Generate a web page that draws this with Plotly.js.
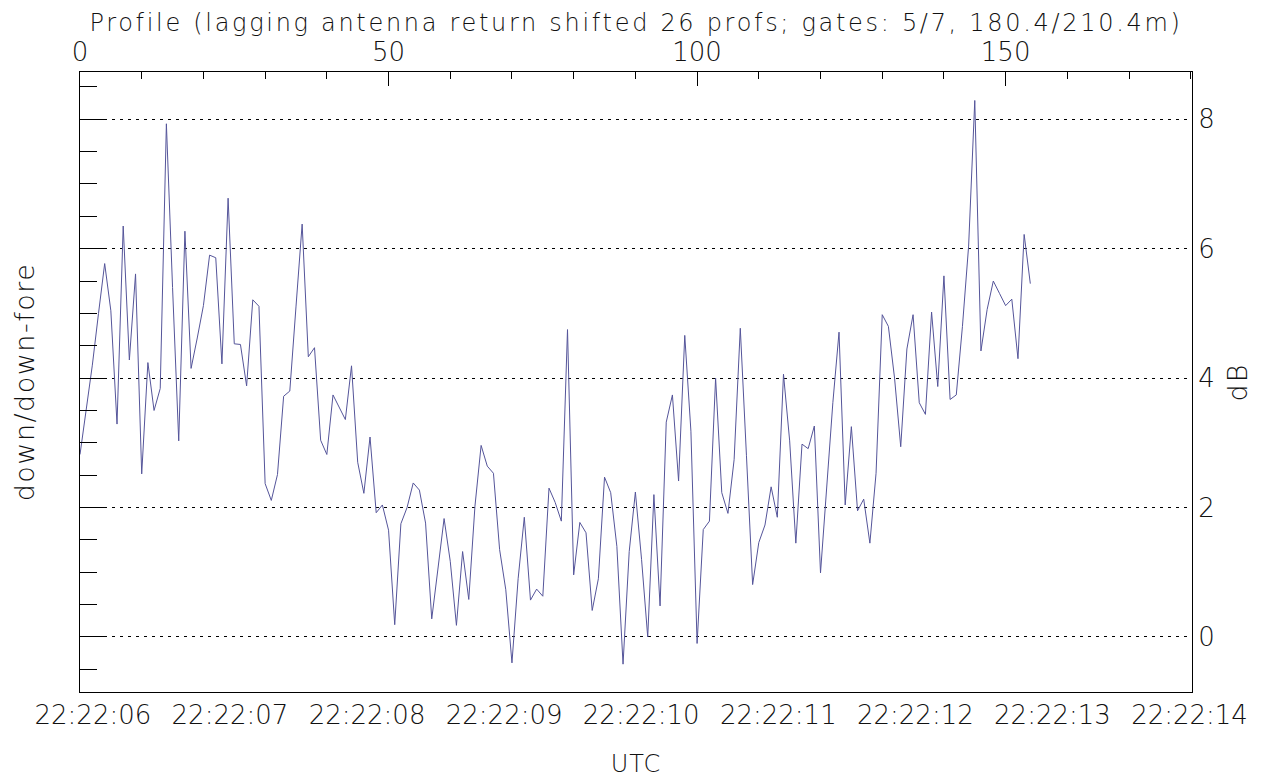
<!DOCTYPE html>
<html>
<head>
<meta charset="utf-8">
<script src="https://cdn.plot.ly/plotly-3.0.1.min.js"></script>
<style>
html,body{margin:0;padding:0;background:#fff;}
#chart{width:1267px;height:778px;}
#chart .gtitle{letter-spacing:2.7px;}
#chart .ytitle{letter-spacing:1.5px;}
#chart .y2title{letter-spacing:2px;}
#chart .xtitle{letter-spacing:1px;}
</style>
</head>
<body>
<div id="chart"></div>
<script>
// dB ratio down/down-fore per profile (profile index = array position)
const dbValues = [
  2.82, 3.5, 4.2, 5.0, 5.77, 5.04, 3.29, 6.35, 4.28, 5.61,
  2.52, 4.24, 3.50, 3.84, 7.93, 5.4, 3.03, 6.27, 4.15, 4.62,
  5.12, 5.90, 5.86, 4.22, 6.78, 4.53, 4.52, 3.88, 5.21, 5.11,
  2.37, 2.11, 2.51, 3.72, 3.80, 5.1, 6.38, 4.33, 4.47, 3.04,
  2.82, 3.74, 3.56, 3.36, 4.19, 2.70, 2.22, 3.09, 1.92, 2.04,
  1.65, 0.19, 1.75, 2.0, 2.38, 2.27, 1.76, 0.28, 1.05, 1.83,
  1.17, 0.18, 1.32, 0.58, 2.02, 2.96, 2.64, 2.53, 1.35, 0.73,
  -0.40, 0.90, 1.85, 0.57, 0.74, 0.63, 2.30, 2.08, 1.79, 4.75,
  0.96, 1.77, 1.61, 0.41, 0.90, 2.47, 2.23, 1.40, -0.42, 1.32,
  2.24, 1.2, 0.0, 2.20, 0.48, 3.32, 3.74, 2.41, 4.66, 3.18,
  -0.10, 1.66, 1.79, 4.00, 2.23, 1.91, 2.74, 4.77, 2.8, 0.81,
  1.46, 1.73, 2.32, 1.85, 4.06, 3.03, 1.45, 2.98, 2.91, 3.26,
  0.99, 2.32, 3.62, 4.71, 2.04, 3.25, 1.95, 2.13, 1.45, 2.53,
  4.98, 4.80, 4.0, 2.94, 4.45, 4.98, 3.62, 3.44, 5.02, 3.87,
  5.58, 3.67, 3.74, 4.80, 6.04, 8.29, 4.42, 5.06, 5.50, 5.31,
  5.12, 5.22, 4.30, 6.22, 5.46
];
const profiles = dbValues.map((_, i) => i);

// axis extents
const profileRange = [0, 180.2];
const timeRange = ['2000-01-01 22:22:05.906', '2000-01-01 22:22:14.018'];
const dbRange = [-0.85, 8.73];
const dbTickVals = [0, 2, 4, 6, 8];

const titleText = 'Profile (lagging antenna return shifted 26 profs; gates: 5/7, 180.4/210.4m)';

const FONT = 'DejaVu Sans';
const fnt = (s) => ({family: FONT, size: s, color: '#111', weight: 200});

const traces = [
  {
    x: profiles, y: dbValues, xaxis: 'x2', yaxis: 'y',
    type: 'scatter', mode: 'lines',
    line: {color: '#55559a', width: 1},
    hoverinfo: 'x+y', showlegend: false
  },
  {
    x: timeRange, y: [null, null], xaxis: 'x', yaxis: 'y2',
    type: 'scatter', mode: 'lines', line: {width: 0},
    hoverinfo: 'skip', showlegend: false
  }
];

const layout = {
  width: 1267, height: 778,
  paper_bgcolor: '#fff', plot_bgcolor: '#fff',
  margin: {l: 80, r: 75, t: 72, b: 86, pad: 0},
  showlegend: false,
  title: {
    text: titleText, font: fnt(24),
    x: 0.5, xref: 'paper', xanchor: 'center',
    y: 1 - 23 / 778, yref: 'container', yanchor: 'middle'
  },
  xaxis: {
    type: 'date', range: timeRange, side: 'bottom', anchor: 'y',
    tickformat: '%H:%M:%S', dtick: 1000, tick0: '2000-01-01 22:22:06',
    ticks: 'inside', ticklen: 16, tickwidth: 1, tickcolor: '#000',
    minor: {dtick: 200, tick0: '2000-01-01 22:22:06', ticks: 'inside', ticklen: 8, tickwidth: 1, tickcolor: '#000', showgrid: false},
    showgrid: false, zeroline: false,
    showline: true, linecolor: '#000', linewidth: 1,
    tickfont: fnt(26),
    title: {text: 'UTC', font: fnt(24), standoff: 32},
    fixedrange: true
  },
  xaxis2: {
    type: 'linear', range: profileRange, overlaying: 'x', side: 'top', anchor: 'y',
    dtick: 50, tick0: 0,
    ticks: 'inside', ticklen: 14, tickwidth: 1, tickcolor: '#000',
    minor: {dtick: 10, tick0: 0, ticks: 'inside', ticklen: 7, tickwidth: 1, tickcolor: '#000', showgrid: false},
    showgrid: false, zeroline: false,
    showline: true, linecolor: '#000', linewidth: 1,
    tickfont: fnt(26),
    fixedrange: true
  },
  yaxis: {
    range: dbRange, side: 'left', anchor: 'x',
    tickvals: dbTickVals, showticklabels: false,
    ticks: 'inside', ticklen: 24, tickwidth: 1, tickcolor: '#000',
    minor: {dtick: 0.5, tick0: 0, ticks: 'inside', ticklen: 17, tickwidth: 1, tickcolor: '#000', showgrid: false},
    showgrid: true, gridcolor: '#000', gridwidth: 1, griddash: '3px,5px',
    zeroline: false,
    showline: true, linecolor: '#000', linewidth: 1,
    title: {text: 'down/down-fore', font: fnt(27), standoff: 36},
    fixedrange: true
  },
  yaxis2: {
    range: dbRange, side: 'right', overlaying: 'y', anchor: 'x',
    tickvals: dbTickVals, ticktext: dbTickVals.map(String),
    ticks: 'inside', ticklen: 17, tickwidth: 1, tickcolor: '#000',
    minor: {dtick: 0.5, tick0: 0, ticks: 'inside', ticklen: 17, tickwidth: 1, tickcolor: '#000', showgrid: false},
    showgrid: false, zeroline: false,
    showline: true, linecolor: '#000', linewidth: 1,
    tickfont: fnt(26),
    title: {text: 'dB', font: fnt(27), standoff: 14},
    fixedrange: true
  }
};

Plotly.newPlot('chart', traces, layout, {displayModeBar: false, staticPlot: true});
</script>
</body>
</html>
